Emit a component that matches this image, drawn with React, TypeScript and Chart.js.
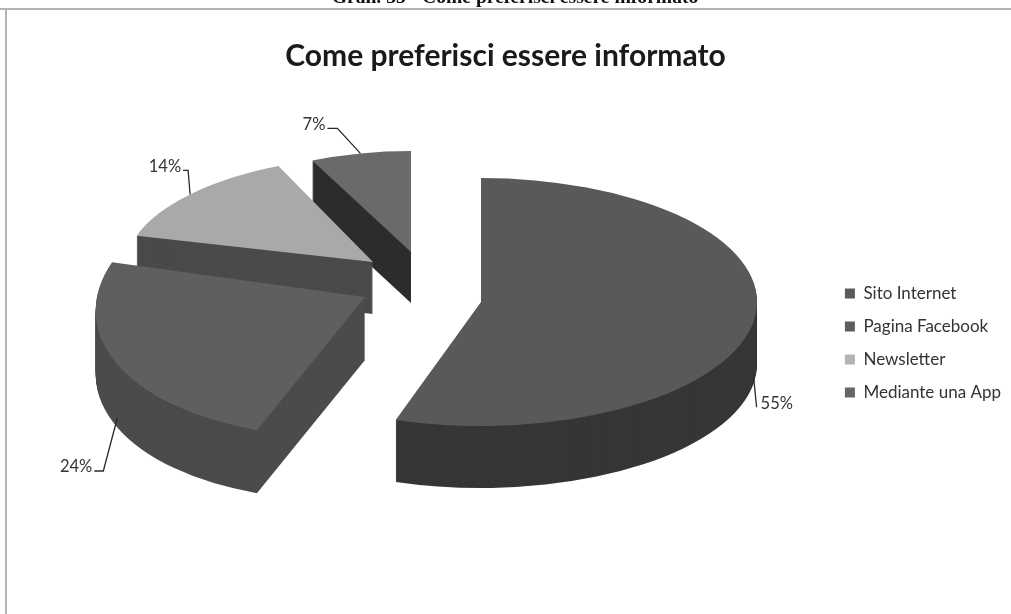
import React, { useEffect, useRef } from "react";
import { Chart, registerables } from "chart.js";

Chart.register(...registerables);

// Data
const categories = ["Sito Internet", "Pagina Facebook", "Newsletter", "Mediante una App"];
const shares = [55, 24, 14, 7];
const chartTitle = "Come preferisci essere informato";
const pageCaption = "Gran. 35 - Come preferisci essere informato";

// Styles
const topColors = ["#595959", "#5f5f5f", "#a9a9a9", "#6a6a6a"];
const wallColors = ["#363636", "#4b4b4b", "#4a4a4a", "#2c2c2c"];
const legendColors = ["#5a5a5a", "#5e5e5e", "#b4b4b4", "#666666"];

// 3D view: exploded-pie projection, per slice
const baseRadius = 200;
const viewX = 420;
const viewY = 281;
const explodeX = [61, -55, -47, -9];
const explodeY = [21, 16, -19, -29];
const radiusX = [276, 268, 247, 232];
const radiusY = [124, 140, 106, 101];
const shear = [0, -0.19, -0.11, 0];
const depth = [62, 63, 52, 51];
const paintOrder = [3, 2, 1, 0];
const legendShiftY = 36;
// label callouts, relative to the slice's rim point
const labelDX = [7, -25, -9, -35];
const labelDY = [26, 49, -28, -29];
const elbowDX = [3, -14, -2, -23];
const anchorOnWall = [0.9, 0.85, 0, 0];
const labelAlign: CanvasTextAlign[] = ["left", "right", "right", "right"];

function arcAngles(el: any) {
  return (el.startAngle + el.endAngle) / 2;
}

function applyView(ctx: CanvasRenderingContext2D, el: any, i: number, drop: number) {
  const sx = radiusX[i] / baseRadius;
  const sy = radiusY[i] / baseRadius;
  ctx.translate(viewX + explodeX[i], viewY + explodeY[i] + drop);
  ctx.transform(sx, 0, shear[i] * sy, sy, 0, 0);
  ctx.translate(-el.x, -el.y);
}

const pie3D = {
  id: "pie3D",
  afterLayout(chart: any) {
    chart.legend.top += legendShiftY;
    chart.legend.bottom += legendShiftY;
  },
  beforeDraw(chart: any) {
    const ctx = chart.ctx;
    ctx.save();
    ctx.fillStyle = "#ffffff";
    ctx.fillRect(0, 0, chart.width, chart.height);
    ctx.fillStyle = "#b5b5b5";
    ctx.fillRect(0, 8, chart.width, 2);
    ctx.fillRect(5, 8, 2, chart.height - 8);
    ctx.restore();
  },
  beforeDatasetDraw(chart: any, args: any) {
    const ctx = chart.ctx;
    const meta = args.meta;
    paintOrder.forEach((i) => {
      const el = meta.data[i];
      const original = el.options;
      const flat = {
        backgroundColor: wallColors[i],
        borderColor: wallColors[i],
        borderWidth: 0,
        borderAlign: "center",
        borderRadius: 0,
        borderJoinStyle: "round",
        spacing: 0,
        offset: 0,
        circular: true,
      };
      el.options = flat;
      for (let d = depth[i]; d >= 1; d--) {
        ctx.save();
        applyView(ctx, el, i, d);
        el.draw(ctx);
        ctx.restore();
      }
      el.options = { ...flat, backgroundColor: topColors[i], borderColor: topColors[i] };
      ctx.save();
      applyView(ctx, el, i, 0);
      el.draw(ctx);
      ctx.restore();
      el.options = original;
    });
    return false;
  },
  afterDatasetsDraw(chart: any) {
    const ctx = chart.ctx;
    const meta = chart.getDatasetMeta(0);
    meta.data.forEach((el: any, i: number) => {
      const mid = arcAngles(el);
      const u = Math.cos(mid);
      const v = Math.sin(mid);
      const sy = radiusY[i] / baseRadius;
      const localY = v * baseRadius * sy;
      const rimX = viewX + explodeX[i] + u * radiusX[i] + shear[i] * localY;
      const rimY = viewY + explodeY[i] + localY + anchorOnWall[i] * depth[i];
      const textX = rimX + labelDX[i];
      const textY = rimY + labelDY[i];
      const elbowX = rimX + elbowDX[i];
      const elbowY = textY + 4;
      ctx.save();
      ctx.strokeStyle = "#2a2a2a";
      ctx.lineWidth = 1.3;
      ctx.beginPath();
      ctx.moveTo(rimX, rimY);
      ctx.lineTo(elbowX, elbowY);
      if (i !== 0) ctx.lineTo(textX + 2, elbowY);
      ctx.stroke();
      ctx.fillStyle = "#333333";
      ctx.font = "16.5px Lato";
      ctx.textAlign = labelAlign[i];
      ctx.textBaseline = "middle";
      ctx.fillText(`${shares[i]}%`, textX, textY);
      ctx.restore();
    });
  },
};

export default function App() {
  const ref = useRef<HTMLCanvasElement | null>(null);
  useEffect(() => {
    if (!ref.current) return;
    const chart = new Chart(ref.current, {
      type: "pie",
      data: {
        labels: categories,
        datasets: [{ data: shares, backgroundColor: legendColors, borderWidth: 0 }],
      },
      plugins: [pie3D],
      options: {
        animation: false,
        responsive: false,
        radius: baseRadius,
        events: [],
        layout: { padding: { top: 0, right: 0, bottom: 0, left: 0 } },
        plugins: {
          title: {
            display: true,
            text: chartTitle,
            color: "#1a1a1a",
            font: { family: "Lato", size: 30, weight: "bold" },
            padding: { top: 38, bottom: 78 },
          },
          legend: {
            position: "right",
            align: "center",
            labels: {
              boxWidth: 10,
              boxHeight: 10,
              padding: 16,
              color: "#333333",
              font: { family: "Lato", size: 17 },
            },
          },
          tooltip: { enabled: false },
        },
      } as any,
    });
    return () => chart.destroy();
  }, []);
  return (
    <div style={{ position: "fixed", inset: 0, overflow: "hidden", background: "#fff" }}>
      <canvas ref={ref} width={1011} height={614} style={{ position: "absolute", left: 0, top: 0, display: "block" }} />
      <div
        style={{
          position: "absolute",
          left: 0,
          width: 1030,
          top: -14,
          textAlign: "center",
          font: "bold 19.6px 'Liberation Serif'",
          lineHeight: "22px",
          color: "#111",
        }}
      >
        {pageCaption}
      </div>
    </div>
  );
}
